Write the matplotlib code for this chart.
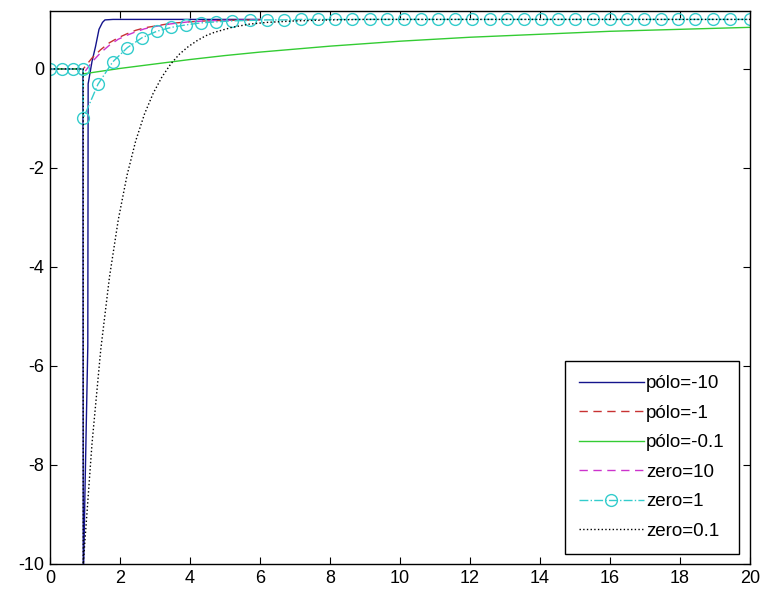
import numpy as np
import matplotlib.pyplot as plt

# respostas ao degrau (atraso de ~1 s)
t_p10 = [0, 0.94, 0.95, 1.0, 1.08, 1.09, 1.2, 1.3, 1.4, 1.5, 1.57, 1.8, 6.0]
y_p10 = [0, 0, -10.5, -8.5, -5.6, -0.3, 0.15, 0.45, 0.8, 0.94, 0.99, 1.0, 1.0]

t_p1 = [0, 0.95, 1.2, 1.45, 1.7, 1.95, 2.2, 2.45, 2.7, 2.95, 3.45, 3.95, 4.45, 5.0, 6.0]
y_p1 = [0, 0, 0.22, 0.39, 0.53, 0.63, 0.71, 0.78, 0.83, 0.86, 0.92, 0.95, 0.97, 0.98, 0.99]

t_p01 = [0, 0.95, 0.95, 2, 3, 4, 5, 6, 7, 8, 9, 10, 12, 14, 16, 18, 20]
y_p01 = [0, 0, -0.1, 0.01, 0.10, 0.19, 0.27, 0.34, 0.40, 0.46, 0.51, 0.56, 0.64, 0.70, 0.76, 0.80, 0.84]

t_z10 = [0, 0.95, 0.95, 1.2, 1.45, 1.7, 1.95, 2.2, 2.45, 2.7, 2.95, 3.45, 3.95, 4.45, 5.0, 6.0]
y_z10 = [0, 0, -0.1, 0.14, 0.33, 0.48, 0.60, 0.68, 0.75, 0.81, 0.85, 0.91, 0.95, 0.97, 0.98, 0.99]

t_z1 = [0, 0.33, 0.67, 0.95, 0.95, 1.37, 1.79, 2.21, 2.63, 3.05, 3.47, 3.89, 4.31, 4.73,
        5.2, 5.7, 6.19, 6.68, 7.17, 7.66, 8.15, 8.64, 9.13, 9.62, 10.11, 10.6, 11.09,
        11.58, 12.07, 12.56, 13.05, 13.54, 14.03, 14.52, 15.01, 15.5, 15.99, 16.48,
        16.97, 17.46, 17.95, 18.44, 18.93, 19.42, 20.0]
y_z1 = [0, 0, 0, 0, -1.0, -0.31, 0.14, 0.43, 0.63, 0.76, 0.84, 0.89, 0.93, 0.95,
        0.97, 0.98, 0.99, 0.99, 1.0, 1.0, 1.0, 1.0, 1.0, 1.0, 1.0, 1.0, 1.0,
        1.0, 1.0, 1.0, 1.0, 1.0, 1.0, 1.0, 1.0, 1.0, 1.0, 1.0,
        1.0, 1.0, 1.0, 1.0, 1.0, 1.0, 1.0]

t_z01 = [0, 0.95, 0.95, 1.2, 1.45, 1.7, 1.95, 2.2, 2.45, 2.7, 2.95, 3.2, 3.45, 3.7,
         3.95, 4.2, 4.45, 4.7, 5.2, 5.7, 6.2, 7.0, 8.0, 9.0, 20.0]
y_z01 = [0, 0, -10.0, -7.57, -5.67, -4.20, -3.05, -2.15, -1.45, -0.91, -0.49, -0.16, 0.10, 0.30,
         0.45, 0.57, 0.67, 0.74, 0.84, 0.905, 0.94, 0.97, 0.99, 1.0, 1.0]

legendas = ['pólo=-10', 'pólo=-1', 'pólo=-0.1', 'zero=10', 'zero=1', 'zero=0.1']

plt.rcParams['font.family'] = ['Liberation Sans', 'DejaVu Sans']
plt.rcParams['axes.unicode_minus'] = False

fig = plt.figure(figsize=(7.64, 5.95), dpi=100)
ax = fig.add_axes([50/764, 31/595, 700/764, 553/595])

ax.plot(t_p10, y_p10, color='#14148c', lw=1.0, label=legendas[0])
ax.plot(t_p1, y_p1, '--', color='#c83232', lw=1.0, dashes=(6, 4), label=legendas[1])
ax.plot(t_p01, y_p01, color='#33cc33', lw=1.0, label=legendas[2])
ax.plot(t_z10, y_z10, '--', color='#cc33cc', lw=1.0, dashes=(6, 4), label=legendas[3])
ax.plot(t_z1, y_z1, '-.', color='#33cccc', lw=1.0, marker='o', ms=8.5,
        mfc='none', mec='#33cccc', label=legendas[4])
ax.plot(t_z01, y_z01, ':', color='black', lw=1.0, label=legendas[5])

ax.set_xlim(0, 20)
ax.set_ylim(-10, 1.17)
ax.set_xticks(np.arange(0, 21, 2))
ax.set_yticks(np.arange(-10, 1, 2))
ax.tick_params(direction='in', length=5, top=True, right=True, labelsize=13, pad=4)
for s in ax.spines.values():
    s.set_linewidth(1.0)

leg = ax.legend(loc='lower right', bbox_to_anchor=(0.984, 0.018), fontsize=13.5,
                handlelength=3.5, handletextpad=0.1, labelspacing=0.66,
                borderpad=0.75, borderaxespad=0, fancybox=False, framealpha=1,
                edgecolor='black')
leg.get_frame().set_linewidth(1.0)

plt.savefig('out.png', dpi=100)
